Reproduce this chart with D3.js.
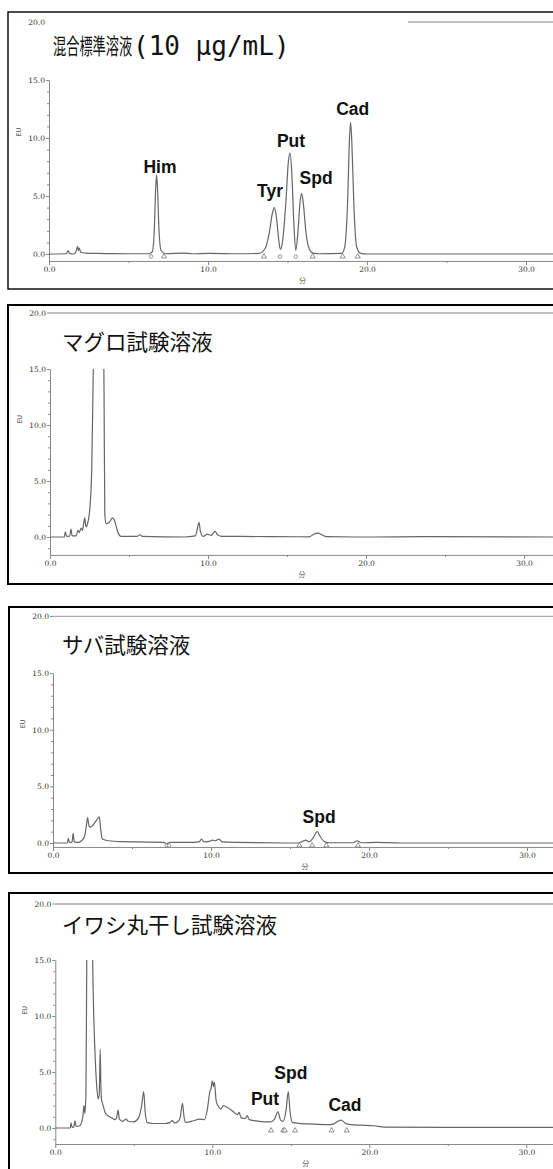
<!DOCTYPE html>
<html>
<head>
<meta charset="utf-8">
<script src="https://cdn.jsdelivr.net/npm/d3@7"></script>
<style>
  body { margin: 0; background: #fff; }
  svg { display: block; }
</style>
</head>
<body>
<div id="chart"></div>
<script>
// axis ticks
var xMajor = [0, 10, 20, 30];
var xMinor = [5, 15, 25];
var yMajor = [0, 5, 10, 15];
var yMinor = [-1, 1, 2, 3, 4, 6, 7, 8, 9, 11, 12, 13, 14];
var yTop = 20;

var titles = ["混合標準溶液", "マグロ試験溶液", "サバ試験溶液", "イワシ丸干し試験溶液"];
var title1Suffix = "(10 µg/mL)";

// traces: [minutes, EU]
var mixTrace = [[0,0],[1.1,0.02],[1.2,0.3],[1.3,0.05],[1.55,0.0],[1.7,0.2],[1.8,0.65],[1.85,0.3],[1.9,0.5],[2.0,0.15],
  [2.3,0.08],[3,0.05],[4,0.03],[5,0.02],[6.3,0.02],[6.5,0.2],[6.62,2.0],[6.72,6.0],[6.77,6.8],[6.83,5.5],[6.92,2.0],
  [7.05,0.3],[7.3,0.02],[8.5,0.08],[9,0.02],[10,0.05],[12,0.02],[13.2,0.05],[13.6,0.5],[13.85,1.8],[14.05,3.5],
  [14.17,4.0],[14.3,3.2],[14.45,1.2],[14.55,0.4],[14.7,1.2],[14.9,4.5],[15.05,7.9],[15.16,8.7],[15.27,7.0],[15.4,2.6],
  [15.52,0.3],[15.65,1.8],[15.8,4.6],[15.89,5.2],[16.0,4.3],[16.15,2.0],[16.35,0.5],[16.6,0.08],[17,0.02],[18.4,0.05],
  [18.6,0.6],[18.78,4.5],[18.9,10],[18.97,11.35],[19.05,9.5],[19.18,4.0],[19.35,0.6],[19.6,0.05],[20,0],[25,0],[32,0]];

var maguroTrace = [[0,0],[0.9,0],[0.97,0.45],[1.05,0.05],[1.25,0.1],[1.33,0.7],[1.4,0.1],[1.65,0.1],[1.77,0.6],
  [1.85,0.4],[1.97,0.8],[2.05,0.6],[2.12,1.1],[2.2,1.7],[2.28,0.9],[2.38,1.2],[2.53,2.7],[2.64,6],[2.72,13],[2.76,17],
  [2.9,30],[3.1,36],[3.3,30],[3.38,20],[3.42,13],[3.47,2.0],[3.55,1.2],[3.75,1.3],[3.95,1.7],[4.1,1.4],[4.3,0.4],
  [4.5,0.05],[5.5,0.05],[5.7,0.2],[5.85,0.05],[8.5,0],[9.2,0.1],[9.35,0.9],[9.43,1.3],[9.52,0.5],[9.7,0.05],[9.95,0.25],
  [10.2,0.15],[10.45,0.5],[10.6,0.2],[10.9,0.05],[11.5,0.05],[16.4,0.02],[16.7,0.25],[16.95,0.35],[17.2,0.2],
  [17.5,0.03],[20,0],[24,0.03],[32,0]];

var sabaTrace = [[0,0],[0.9,0],[0.97,0.4],[1.03,0.05],[1.2,0.05],[1.28,0.85],[1.34,0.1],[1.6,0.05],[1.8,0.2],[2.0,0.6],
  [2.12,1.6],[2.19,2.25],[2.28,1.5],[2.4,1.4],[2.6,1.7],[2.85,2.2],[2.93,2.3],[3.02,1.2],[3.12,0.35],[3.5,0.2],
  [4.5,0.12],[6,0.08],[7.0,0.05],[7.2,-0.05],[7.4,0.05],[8.5,0.05],[9.25,0.1],[9.4,0.35],[9.55,0.1],[9.9,0.15],
  [10.1,0.25],[10.25,0.2],[10.5,0.35],[10.7,0.1],[11.5,0.05],[15.5,0.0],[15.8,0.15],[16.0,0.25],[16.2,0.1],[16.45,0.4],
  [16.72,1.0],[16.9,0.6],[17.2,0.1],[17.5,0.02],[19.0,0.02],[19.25,0.2],[19.5,0.02],[20.5,0.05],[22,0],[32,0]];

var iwashiTrace = [[0,0],[0.95,0],[1.0,0.45],[1.07,0.05],[1.18,0.1],[1.25,0.63],[1.32,0.15],[1.55,0.2],[1.75,1.0],
  [1.83,2.0],[1.88,1.3],[1.95,3],[2.0,14],[2.05,28],[2.2,34],[2.32,24],[2.38,15],[2.45,10],[2.55,6],[2.65,3.5],
  [2.73,2.6],[2.8,3.0],[2.86,7.0],[2.9,4],[2.95,2.5],[3.05,2.0],[3.2,1.3],[3.6,0.9],[3.8,0.75],[3.9,0.9],[4.0,1.6],
  [4.08,0.8],[4.3,0.6],[4.5,0.8],[4.65,0.6],[5.0,0.55],[5.3,0.9],[5.5,2.0],[5.63,3.25],[5.72,1.5],[5.85,0.5],[6.2,0.4],
  [7.0,0.4],[7.3,0.5],[7.45,0.65],[7.6,0.45],[7.8,0.55],[7.95,0.9],[8.1,2.2],[8.2,1.0],[8.3,0.5],[8.8,0.65],[9.2,0.8],
  [9.5,0.75],[9.7,1.8],[9.85,3.3],[9.92,3.5],[10.0,4.2],[10.07,3.7],[10.13,4.1],[10.25,2.4],[10.4,1.9],[10.55,1.7],
  [10.7,2.0],[11.0,1.8],[11.3,1.5],[11.6,1.2],[11.7,1.4],[11.85,0.9],[12.1,0.85],[12.23,1.1],[12.35,0.75],[13,0.6],
  [13.7,0.55],[13.95,0.75],[14.18,1.45],[14.35,0.7],[14.5,0.6],[14.7,1.6],[14.84,3.25],[14.95,1.5],[15.1,0.5],
  [15.5,0.42],[16.5,0.35],[17.4,0.3],[17.7,0.35],[18.0,0.6],[18.2,0.7],[18.45,0.45],[18.8,0.3],[19.5,0.25],
  [20.3,0.2],[21,0.08],[25,0.05],[32,0.05]];

// peak labels: name, minutes, EU (baseline of the text)
var mixLabels = [["Him",6.98,7.0],["Tyr",13.9,4.9],["Put",15.22,9.2],["Spd",16.8,6.0],["Cad",19.1,12.0]];
var maguroLabels = [];
var sabaLabels = [["Spd",16.84,1.8]];
var iwashiLabels = [["Put",13.36,2.05],["Spd",15.0,4.4],["Cad",18.45,1.5]];

// integration marks: minutes, type
var mixMarks = [[6.42,"o"],[7.23,"t"],[13.52,"t"],[14.53,"o"],[15.52,"o"],[16.58,"t"],[18.47,"t"],[19.42,"t"]];
var maguroMarks = [];
var sabaMarks = [[7.2,"o"],[7.35,"o"],[15.6,"t"],[16.4,"t"],[17.3,"t"],[19.3,"t"]];
var iwashiMarks = [[13.74,"t"],[14.52,"t"],[14.62,"t"],[15.27,"t"],[17.6,"t"],[18.56,"t"]];

var panels = [
  { title: titles[0], trace: mixTrace, labels: mixLabels, marks: mixMarks,
    box: [8, 12, 289], left: 49, kx: 15.9, base: 254, ky: 11.6, floor: -0.6, topFrom: 408, topDash: false },
  { title: titles[1], trace: maguroTrace, labels: maguroLabels, marks: maguroMarks,
    box: [8, 305, 584], left: 50, kx: 15.8, base: 537, ky: 11.2, floor: -1.6, topDash: true },
  { title: titles[2], trace: sabaTrace, labels: sabaLabels, marks: sabaMarks,
    box: [9, 607, 873], left: 53, kx: 15.8, base: 843, ky: 11.33, floor: -0.35, topDash: true },
  { title: titles[3], trace: iwashiTrace, labels: iwashiLabels, marks: iwashiMarks,
    box: [9, 893, 1200], left: 55.3, kx: 15.7, base: 1128, ky: 11.2, floor: -1.43, topDash: true }
];

var W = 553, H = 1169;
var svg = d3.select("#chart").append("svg")
  .attr("width", W)
  .attr("height", H);

var tickFont = "'DejaVu Serif', serif";

panels.forEach(function (p, i) {
  var x = d3.scaleLinear().domain([0, 30]).range([p.left, p.left + 30 * p.kx]);
  var y = d3.scaleLinear().domain([0, 20]).range([p.base, p.base - 20 * p.ky]);
  var g = svg.append("g");

  // frame
  g.append("rect")
    .attr("x", p.box[0]).attr("y", p.box[1])
    .attr("width", 700).attr("height", p.box[2] - p.box[1])
    .attr("fill", "none").attr("stroke", "#000").attr("stroke-width", i == 0 ? 1.4 : 2);

  // top line at 20.0
  g.append("line")
    .attr("x1", p.topFrom || x(0)).attr("x2", W + 5)
    .attr("y1", y(yTop)).attr("y2", y(yTop))
    .attr("stroke", "#aaa").attr("stroke-width", 1.4);
  if (p.topDash) {
    g.append("line")
      .attr("x1", x(0) - 3).attr("x2", x(0))
      .attr("y1", y(yTop)).attr("y2", y(yTop))
      .attr("stroke", "#888");
  }
  g.append("text")
    .attr("x", x(0) - 4).attr("y", y(yTop))
    .attr("dy", "0.35em")
    .attr("text-anchor", "end")
    .style("font-family", tickFont).style("font-size", "7.5px").style("fill", "#333")
    .text(d3.format(".1f")(yTop));

  // y axis (15 down to x axis)
  var yAx = y.copy().domain([p.floor, 15]).range([y(p.floor), y(15)]);
  var ya = g.append("g")
    .attr("transform", "translate(" + x(0) + ",0)")
    .call(d3.axisLeft(yAx).tickValues(yMajor).tickFormat(d3.format(".1f"))
      .tickSize(3).tickPadding(1).tickSizeOuter(0));
  ya.selectAll("text").style("font-family", tickFont).style("font-size", "7.5px").style("fill", "#333");
  g.append("g")
    .attr("transform", "translate(" + x(0) + ",0)")
    .call(d3.axisLeft(yAx).tickValues(yMinor.filter(function (v) { return v >= p.floor; }))
      .tickFormat("").tickSize(2).tickSizeOuter(0))
    .select(".domain").remove();

  // x axis
  var xAx = x.copy().domain([0, 32]).range([x(0), x(32)]);
  var xa = g.append("g")
    .attr("transform", "translate(0," + y(p.floor) + ")")
    .call(d3.axisBottom(xAx).tickValues(xMajor).tickFormat(d3.format(".1f"))
      .tickSize(4).tickPadding(2).tickSizeOuter(0));
  xa.selectAll("text").style("font-family", tickFont).style("font-size", "7.5px").style("fill", "#333");
  g.append("g")
    .attr("transform", "translate(0," + y(p.floor) + ")")
    .call(d3.axisBottom(xAx).tickValues(xMinor).tickFormat("").tickSize(2).tickSizeOuter(0))
    .select(".domain").remove();
  g.selectAll(".domain, .tick line").attr("stroke", "#888");

  // axis names
  g.append("text")
    .attr("transform", "translate(" + (x(0) - 28) + "," + y(10.5) + ") rotate(-90)")
    .attr("text-anchor", "middle")
    .style("font-family", "'DejaVu Sans', sans-serif").style("font-size", "6.5px").style("fill", "#444")
    .text("EU");
  g.append("text")
    .attr("x", x(15.95)).attr("y", y(p.floor) + 22)
    .attr("text-anchor", "middle")
    .style("font-family", "'Noto Sans CJK JP', sans-serif").style("font-size", "7px").style("fill", "#555")
    .text("分");

  // trace
  var clipId = "clip" + i;
  svg.append("clipPath").attr("id", clipId)
    .append("rect")
    .attr("x", x(0)).attr("y", y(15))
    .attr("width", W).attr("height", y(p.floor) - y(15));
  var line = d3.line()
    .x(function (d) { return x(d[0]); })
    .y(function (d) { return y(d[1]); })
    .curve(d3.curveMonotoneX);
  g.append("path")
    .datum(p.trace)
    .attr("clip-path", "url(#" + clipId + ")")
    .attr("d", line)
    .attr("fill", "none")
    .attr("stroke", "#666")
    .attr("stroke-width", 1.2);

  // integration marks
  g.selectAll(".mark")
    .data(p.marks)
    .enter()
    .append("path")
    .attr("transform", function (d) { return "translate(" + x(d[0]) + "," + (y(0) + 2.5) + ")"; })
    .attr("d", function (d) {
      return d3.symbol().type(d[1] == "o" ? d3.symbolCircle : d3.symbolTriangle).size(d[1] == "o" ? 9 : 11)();
    })
    .attr("fill", "#fff").attr("stroke", "#777").attr("stroke-width", 0.8);

  // peak labels
  g.selectAll(".peak")
    .data(p.labels)
    .enter()
    .append("text")
    .attr("x", function (d) { return x(d[1]); })
    .attr("y", function (d) { return y(d[2]); })
    .attr("text-anchor", "middle")
    .style("font-family", "'Liberation Sans', Arial, sans-serif")
    .style("font-weight", "bold")
    .style("font-size", "17.5px")
    .style("fill", "#111")
    .text(function (d) { return d[0]; });

  // title (first one is set in a condensed face)
  var tY = [46, 342, 645, 925][i];
  if (i == 0) {
    g.append("text")
      .attr("transform", "translate(53," + tY + ") scale(0.6,1)")
      .attr("dy", "0.35em")
      .style("font-family", "'Noto Sans CJK JP', sans-serif").style("font-size", "22px").style("fill", "#111")
      .text(p.title);
    g.append("text")
      .attr("transform", "translate(133," + tY + ")")
      .attr("dy", "0.35em")
      .style("font-family", "'DejaVu Sans Mono', monospace").style("font-size", "26px").style("fill", "#111")
      .text(title1Suffix);
  } else {
    g.append("text")
      .attr("x", 62).attr("y", tY).attr("dy", "0.35em")
      .style("font-family", "'Noto Sans CJK JP', sans-serif").style("font-size", "21.5px").style("fill", "#111")
      .text(p.title);
  }
});
</script>
</body>
</html>
